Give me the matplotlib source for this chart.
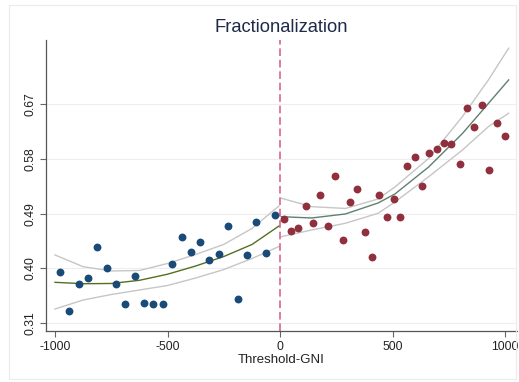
import matplotlib
matplotlib.use('Agg')
import matplotlib.pyplot as plt
from matplotlib.patches import Rectangle

# Binned scatter, below threshold (blue) and above threshold (red)
x_below = [-978, -936, -895, -853, -812, -770, -729, -687, -646, -604, -563,
           -521, -480, -438, -397, -355, -314, -272, -231, -189, -148, -106,
           -65, -24]
y_below = [0.395, 0.331, 0.375, 0.384, 0.435, 0.400, 0.374, 0.341, 0.387,
           0.343, 0.342, 0.341, 0.407, 0.451, 0.427, 0.444, 0.414, 0.423,
           0.470, 0.350, 0.422, 0.476, 0.425, 0.488]
x_above = [15, 46, 80, 114, 147, 179, 212, 244, 277, 310, 343, 375, 408, 441,
           474, 505, 532, 565, 598, 631, 663, 696, 729, 761, 797, 830, 862,
           895, 928, 961, 997]
y_above = [0.481, 0.462, 0.467, 0.502, 0.474, 0.520, 0.470, 0.551, 0.447,
           0.509, 0.531, 0.460, 0.419, 0.521, 0.484, 0.514, 0.484, 0.568,
           0.583, 0.535, 0.589, 0.596, 0.606, 0.604, 0.572, 0.664, 0.632,
           0.669, 0.561, 0.639, 0.618]

# Fitted curves with confidence bands
fit_x_below = [-1000, -875, -750, -625, -500, -375, -250, -125, -5]
fit_below = [0.3773, 0.3750, 0.3754, 0.3806, 0.3906, 0.4041, 0.4197, 0.4394, 0.4698]
hi_below = [0.4222, 0.4029, 0.3959, 0.3967, 0.4082, 0.4230, 0.4396, 0.4657, 0.5027]
lo_below = [0.3335, 0.3483, 0.3573, 0.3647, 0.3721, 0.3844, 0.3983, 0.4164, 0.4361]
fit_x_above = [5, 140, 290, 435, 510, 660, 810, 925, 1015]
fit_above = [0.4850, 0.4829, 0.4895, 0.5075, 0.5223, 0.5667, 0.6217, 0.6709, 0.7095]
hi_above = [0.5153, 0.5015, 0.4985, 0.5141, 0.5338, 0.5809, 0.6495, 0.7095, 0.7616]
lo_above = [0.4522, 0.4632, 0.4742, 0.4906, 0.5092, 0.5507, 0.5946, 0.6328, 0.6548]

y_ticks = [0.31, 0.40, 0.49, 0.58, 0.67]
x_ticks = [-1000, -500, 0, 500, 1000]

plt.rcParams['font.family'] = ['Liberation Sans', 'DejaVu Sans']
fig = plt.figure(figsize=(5.19, 3.82), dpi=100)
fig.patches.append(Rectangle((9 / 519, 3 / 382), 507 / 519, 374 / 382,
                             transform=fig.transFigure, fill=False,
                             edgecolor='#ebebeb', linewidth=0.8))
ax = fig.add_axes([46 / 519, 51 / 382, 471 / 519, 291 / 382])

for y in y_ticks:
    ax.axhline(y, color='#eeeeee', linewidth=0.8, zorder=0)

band = '#c6c6c6'
ax.plot(fit_x_below, hi_below, color=band, lw=1)
ax.plot(fit_x_below, lo_below, color=band, lw=1)
ax.plot(fit_x_above, hi_above, color=band, lw=1)
ax.plot(fit_x_above, lo_above, color=band, lw=1)
ax.plot(fit_x_below, fit_below, color='#566e22', lw=1)
ax.plot(fit_x_above, fit_above, color='#5f8070', lw=1)

ax.scatter(x_below, y_below, s=32, color='#1a4a78', zorder=3, linewidths=0)
ax.scatter(x_above, y_above, s=32, color='#90303d', zorder=3, linewidths=0)

ax.axvline(0, color='#d35a86', lw=1.1, dashes=(5, 2.5), zorder=2)

ax.set_xlim(-1040, 1052)
ax.set_ylim(0.2974, 0.775)
ax.set_xticks(x_ticks)
ax.set_xticklabels([str(v) for v in x_ticks])
ax.set_yticks(y_ticks)
ax.set_yticklabels(['%.2f' % v for v in y_ticks], rotation=90, va='center')
ax.tick_params(labelsize=8.8, colors='#222222', length=4, width=0.8,
               color='#666666', pad=3)
for side in ['top', 'right']:
    ax.spines[side].set_visible(False)
for side in ['left', 'bottom']:
    ax.spines[side].set_color('#555555')
    ax.spines[side].set_linewidth(0.9)

ax.set_xlabel('Threshold-GNI', fontsize=9.5, color='#222222', labelpad=1)
fig.text(281 / 519, 1 - 28 / 382, 'Fractionalization', ha='center',
         va='center', fontsize=13.2, color='#1e2a48')

fig.savefig('out.png', dpi=100)
